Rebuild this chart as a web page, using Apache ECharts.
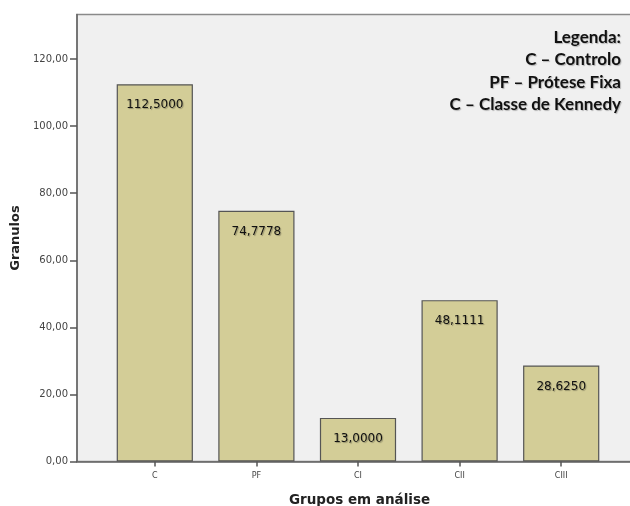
<!DOCTYPE html>
<html>
<head>
<meta charset="utf-8">
<script src="https://cdn.jsdelivr.net/npm/echarts@6/dist/echarts.min.js"></script>
<style>
  html, body { margin: 0; padding: 0; background: #ffffff; }
  #chart { width: 630px; height: 506px; }
</style>
</head>
<body>
<div id="chart"></div>
<script>
// Groups and mean granule counts
const categories = ['C', 'PF', 'CI', 'CII', 'CIII'];
const granulos = [112.5, 74.7778, 13.0, 48.1111, 28.625];
const yTicks = [0, 20, 40, 60, 80, 100, 120];
const legendLines = ['Legenda:', 'C – Controlo', 'PF – Prótese Fixa', 'C – Classe de Kennedy'];

const yMax = 133.3;
const fmt = v => v.toFixed(2).replace('.', ',');
const fmt4 = v => v.toFixed(4).replace('.', ',');

const chart = echarts.init(document.getElementById('chart'), null, { renderer: 'canvas' });

chart.setOption({
  animation: false,
  backgroundColor: '#ffffff',
  title: {
    text: legendLines.join('\n'),
    left: 616,
    top: 21,
    textAlign: 'right',
    textStyle: {
      fontFamily: 'Lato, Liberation Sans, sans-serif',
      fontSize: 17,
      fontWeight: 'bold',
      color: '#111111',
      lineHeight: 22.5,
      textShadowColor: 'rgba(0,0,0,0.25)',
      textShadowBlur: 1,
      textShadowOffsetX: 1,
      textShadowOffsetY: 1
    }
  },
  grid: [
    // bars
    { left: 104, right: 18, top: 14.5, bottom: 44.5, outerBoundsMode: 'none', containLabel: false, z: 3 },
    // frame with grey plot background
    { left: 77, right: -12, top: 14.5, bottom: 44.5, outerBoundsMode: 'none', show: true,
      backgroundColor: '#f0f0f0', borderColor: '#8a8a8a', borderWidth: 1.5, z: 0 }
  ],
  xAxis: [
    {
      type: 'category',
      gridIndex: 0,
      data: categories,
      axisLine: { show: false },
      axisTick: { show: true, alignWithLabel: true, length: 5, lineStyle: { color: '#555555', width: 1.5 } },
      axisLabel: { color: '#444444', fontSize: 8, fontFamily: 'DejaVu Sans, sans-serif', margin: 10 },
      splitLine: { show: false }
    },
    {
      type: 'value',
      gridIndex: 1,
      min: 0, max: 1,
      axisLine: { show: true, onZero: false, lineStyle: { color: '#666666', width: 1.5 } },
      axisTick: { show: false },
      axisLabel: { show: false },
      splitLine: { show: false },
      name: 'Grupos em análise',
      nameLocation: 'middle',
      nameGap: 32,
      nameTextStyle: { fontFamily: 'DejaVu Sans, sans-serif', fontSize: 13.5, fontWeight: 'bold', color: '#222222' }
    }
  ],
  yAxis: [
    {
      type: 'value',
      gridIndex: 0,
      min: 0, max: yMax,
      show: false
    },
    {
      type: 'value',
      gridIndex: 1,
      min: 0, max: yMax, interval: 20,
      axisLine: { show: true, lineStyle: { color: '#666666', width: 1.5 } },
      axisTick: { show: true, length: 7, customValues: yTicks, lineStyle: { color: '#555555', width: 1.5 } },
      axisLabel: {
        color: '#444444', fontSize: 10, fontFamily: 'DejaVu Sans, sans-serif', margin: 9,
        customValues: yTicks,
        formatter: v => fmt(v)
      },
      splitLine: { show: false },
      name: 'Granulos',
      nameLocation: 'middle',
      nameGap: 54,
      nameTextStyle: { fontFamily: 'DejaVu Sans, sans-serif', fontSize: 13, fontWeight: 'bold', color: '#222222' }
    }
  ],
  series: [
    {
      type: 'bar',
      xAxisIndex: 0,
      yAxisIndex: 0,
      data: granulos,
      barWidth: '75%',
      itemStyle: { color: '#d3cd97', borderColor: '#555555', borderWidth: 1.2 },
      label: {
        show: true,
        position: 'insideTop',
        distance: 15,
        formatter: p => fmt4(p.value),
        color: '#111111',
        fontSize: 12,
        fontFamily: 'DejaVu Sans, sans-serif',
        textShadowColor: 'rgba(0,0,0,0.3)',
        textShadowBlur: 1,
        textShadowOffsetX: 1,
        textShadowOffsetY: 1
      },
      z: 3
    }
  ]
});
</script>
</body>
</html>
